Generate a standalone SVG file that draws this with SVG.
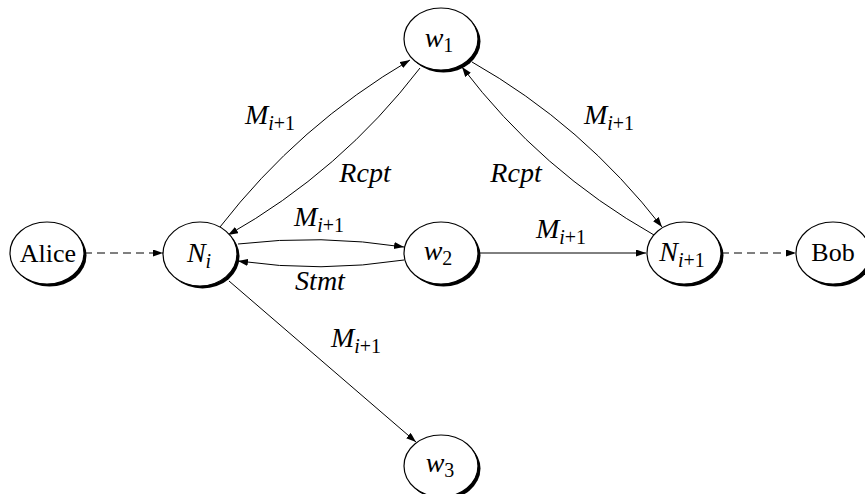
<svg xmlns="http://www.w3.org/2000/svg" width="865" height="494" viewBox="0 0 865 494">
<defs>
<marker id="arr" markerUnits="userSpaceOnUse" markerWidth="11" markerHeight="8" refX="10" refY="3.5" orient="auto">
<path d="M0,0 L10,3.5 L0,7 z" fill="#000"/>
</marker>
</defs>
<style>
.sh{fill:#000}
.nd{fill:#fff;stroke:#000;stroke-width:1.2}
.e{fill:none;stroke:#000;stroke-width:1;marker-end:url(#arr)}
.d{stroke-dasharray:8,5}
text{font-size:26px;fill:#000;text-anchor:middle}
.m{font-style:italic;font-size:28px}
.s{font-size:20px;font-style:normal}
.si{font-size:20px;font-style:italic}
</style>
<rect width="865" height="494" fill="#fff"/>
<g id="connectors">
<path class="e d" d="M84,253 L163,253"/>
<path class="e d" d="M721,253 L796,253"/>
<path class="e" d="M220,227 Q299,125 410,60"/>
<path class="e" d="M420,68 Q341,171 228,235"/>
<path class="e" d="M472,62 Q583,125 662,227"/>
<path class="e" d="M654,235 Q541,171 462,67"/>
<path class="e" d="M238,244 Q321,234 404,247"/>
<path class="e" d="M404,260 Q321,273 238,261"/>
<path class="e" d="M480,253 L646,253"/>
<path class="e" d="M229,281 L416,442"/>
</g>
<g id="edge-labels" font-family="'Liberation Serif', 'Times New Roman', 'DejaVu Serif', 'Noto Serif', serif">
<text class="m" x="270" y="124">M<tspan class="si" dy="6">i</tspan><tspan class="s">+1</tspan></text>
<text class="m" x="365" y="182">Rcpt</text>
<text class="m" x="319" y="226">M<tspan class="si" dy="6">i</tspan><tspan class="s">+1</tspan></text>
<text class="m" x="320" y="290">Stmt</text>
<text class="m" x="609" y="124">M<tspan class="si" dy="6">i</tspan><tspan class="s">+1</tspan></text>
<text class="m" x="516" y="182">Rcpt</text>
<text class="m" x="561" y="238">M<tspan class="si" dy="6">i</tspan><tspan class="s">+1</tspan></text>
<text class="m" x="356" y="347">M<tspan class="si" dy="6">i</tspan><tspan class="s">+1</tspan></text>
</g>
<g id="nodes" font-family="'Liberation Serif', 'Times New Roman', 'DejaVu Serif', 'Noto Serif', serif">
<g id="alice">
<ellipse class="sh" cx="49.5" cy="255.5" rx="37" ry="31"/>
<ellipse class="nd" cx="47" cy="253" rx="37" ry="31"/>
<text x="48" y="262">Alice</text>
</g>
<g id="ni">
<ellipse class="sh" cx="202.5" cy="256.5" rx="37" ry="32"/>
<ellipse class="nd" cx="200" cy="254" rx="37" ry="32"/>
<text class="m" x="199" y="262">N<tspan class="si" dy="6">i</tspan></text>
</g>
<g id="w1">
<ellipse class="sh" cx="443.5" cy="41.5" rx="37" ry="31"/>
<ellipse class="nd" cx="441" cy="39" rx="37" ry="31"/>
<text class="m" x="439" y="47">w<tspan class="s" dy="5">1</tspan></text>
</g>
<g id="w2">
<ellipse class="sh" cx="443.5" cy="255.5" rx="37" ry="31"/>
<ellipse class="nd" cx="441" cy="253" rx="37" ry="31"/>
<text class="m" x="438" y="260">w<tspan class="s" dy="5">2</tspan></text>
</g>
<g id="w3">
<ellipse class="sh" cx="443.5" cy="468.5" rx="37" ry="31"/>
<ellipse class="nd" cx="441" cy="466" rx="37" ry="31"/>
<text class="m" x="440" y="472">w<tspan class="s" dy="5">3</tspan></text>
</g>
<g id="ni1">
<ellipse class="sh" cx="686.5" cy="255.5" rx="37" ry="31"/>
<ellipse class="nd" cx="684" cy="253" rx="37" ry="31"/>
<text class="m" x="682" y="261">N<tspan class="si" dy="6">i</tspan><tspan class="s">+1</tspan></text>
</g>
<g id="bob">
<ellipse class="sh" cx="835.5" cy="255.5" rx="37" ry="31"/>
<ellipse class="nd" cx="833" cy="253" rx="37" ry="31"/>
<text x="833" y="261">Bob</text>
</g>
</g>
</svg>
